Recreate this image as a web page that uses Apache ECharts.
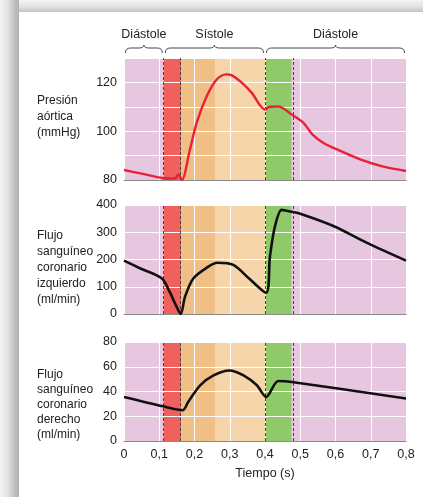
<!DOCTYPE html>
<html>
<head>
<meta charset="utf-8">
<script src="https://cdn.jsdelivr.net/npm/echarts@6/dist/echarts.min.js"></script>
<style>
  html, body { margin: 0; padding: 0; background: #fff; }
  #frame {
    position: absolute; left: 0; top: 0; width: 423px; height: 497px;
    background:
      linear-gradient(to right, #f4f4f4 0px, #e6e6e6 7px, #c8c8c8 13px, #b0b0b0 19px, rgba(0,0,0,0) 19px) left top / 19px 100% no-repeat,
      linear-gradient(to bottom, #f4f4f4 0px, #e4e4e4 6px, #c4c4c4 12px, rgba(0,0,0,0) 12px) left top / 100% 12px no-repeat;
  }
  #chart { position: absolute; left: 0; top: 0; width: 423px; height: 497px; }
</style>
</head>
<body>
<div id="frame"></div>
<div id="chart"></div>
<script>
// fases del ciclo (s)
const phaseEdges = [[0, 0.113], [0.113, 0.4], [0.4, 0.8]]
const phaseNames = ['Diástole', 'Sístole', 'Diástole']
// bandas de fondo
const bandEdges = [0, 0.113, 0.163, 0.26, 0.4, 0.476, 0.8]
const dashedLines = [0.113, 0.163, 0.4, 0.476]

// presión aórtica (mmHg)
const aortaTime = [0, 0.05, 0.11, 0.145, 0.154, 0.164, 0.187, 0.206, 0.235, 0.263, 0.29, 0.306, 0.334, 0.362, 0.4, 0.414, 0.438, 0.476, 0.509, 0.535, 0.565, 0.6, 0.67, 0.736, 0.8]
const aortaP = [84.1, 82.6, 80.8, 80.6, 82.3, 80, 92.4, 103.4, 114.4, 121.2, 123.3, 122.9, 119.9, 115.8, 108.9, 110, 110.1, 106.8, 103.4, 98.6, 95.3, 92.8, 88.5, 85.5, 83.7]

// flujo coronario izquierdo (ml/min)
const leftTime = [0, 0.045, 0.107, 0.13, 0.149, 0.161, 0.173, 0.197, 0.235, 0.265, 0.31, 0.355, 0.403, 0.414, 0.428, 0.447, 0.461, 0.476, 0.5, 0.594, 0.688, 0.8]
const leftFlow = [196, 168, 131, 80, 27, 0, 63, 131, 170, 188, 180, 130, 78, 210, 320, 382, 379, 375, 368, 323, 262, 196]

// flujo coronario derecho (ml/min)
const rightTime = [0, 0.111, 0.166, 0.182, 0.216, 0.254, 0.299, 0.339, 0.377, 0.403, 0.438, 0.476, 0.8]
const rightFlow = [35.6, 28, 24.8, 31.5, 45, 53, 57, 53, 45, 35.6, 48.5, 47.7, 34.3]

const bandColors = ['#e6c7df', '#f0605c', '#f0bf86', '#f7d5aa', '#8fc96a', '#e6c7df']
const font = "'Liberation Sans', Arial, sans-serif"
const textColor = '#222'

const zip = (xs, ys) => xs.map((x, i) => [x, ys[i]])

const chart = echarts.init(document.getElementById('chart'))

const grids = [
  { left: 124, right: 17, top: 58, height: 122 },
  { left: 124, right: 17, top: 205, height: 109 },
  { left: 124, right: 17, top: 342, height: 99 }
]
const yRanges = [
  { min: 80, max: 130, interval: 10, step: 20 },
  { min: 0, max: 400, interval: 100, step: 100 },
  { min: 0, max: 80, interval: 20, step: 20 }
]

const xAxes = grids.map((g, i) => ({
  type: 'value',
  gridIndex: i,
  min: 0,
  max: 0.8,
  interval: 0.1,
  z: 3,
  axisLine: { show: true, lineStyle: { color: '#8a8a8a', width: 1 } },
  axisTick: { show: false },
  splitLine: { show: true, lineStyle: { color: '#ffffff', width: 1 } },
  axisLabel: {
    show: i === 2,
    margin: 7,
    color: textColor,
    fontFamily: font,
    fontSize: 12.5,
    formatter: v => String(+v.toFixed(1)).replace('.', ',')
  },
  name: i === 2 ? 'Tiempo (s)' : '',
  nameLocation: 'middle',
  nameGap: 26,
  nameTextStyle: { color: textColor, fontFamily: font, fontSize: 12.5 }
}))

const yAxes = yRanges.map((r, i) => ({
  type: 'value',
  gridIndex: i,
  min: r.min,
  max: r.max,
  interval: r.interval,
  z: 3,
  axisLine: { show: false },
  axisTick: { show: false },
  splitLine: { show: true, lineStyle: { color: '#ffffff', width: 1 } },
  axisLabel: {
    margin: 7,
    color: textColor,
    fontFamily: font,
    fontSize: 12.5,
    formatter: v => (v % r.step === 0 && v !== r.max || (i > 0 && v === r.max)) ? String(v) : ''
  }
}))

const bandData = bandEdges.slice(0, -1).map((s, i) => [s, bandEdges[i + 1]])

function renderBand(params, api) {
  const s = api.coord([api.value(0), 0])
  const e = api.coord([api.value(1), 0])
  const cs = params.coordSys
  return {
    type: 'rect',
    shape: { x: s[0], y: cs.y, width: e[0] - s[0], height: cs.height },
    style: { fill: bandColors[params.dataIndex] }
  }
}

function renderBrace(params, api) {
  const a = api.coord([api.value(0), 130])
  const b = api.coord([api.value(1), 130])
  const x1 = a[0] + 1.5, x2 = b[0] - 1.5, y0 = a[1]
  const yb = y0 - 5, yt = y0 - 10, tip = y0 - 13, xm = (x1 + x2) / 2, r = 5
  const d = `M${x1},${yb} Q${x1},${yt} ${x1 + r},${yt} L${xm - r},${yt} Q${xm},${yt} ${xm},${tip} Q${xm},${yt} ${xm + r},${yt} L${x2 - r},${yt} Q${x2},${yt} ${x2},${yb}`
  return {
    type: 'group',
    children: [
      { type: 'path', shape: { pathData: d }, style: { fill: 'none', stroke: '#444', lineWidth: 1 } },
      {
        type: 'text',
        style: {
          text: phaseNames[params.dataIndex], x: xm, y: y0 - 23,
          textAlign: 'center', textVerticalAlign: 'middle',
          fill: textColor, font: `12.5px ${font}`
        }
      }
    ]
  }
}

const lineData = [zip(aortaTime, aortaP), zip(leftTime, leftFlow), zip(rightTime, rightFlow)]
const lineColors = ['#e8203a', '#111111', '#111111']

const series = []
grids.forEach((g, i) => {
  series.push({
    type: 'custom',
    xAxisIndex: i,
    yAxisIndex: i,
    z: 1,
    silent: true,
    renderItem: renderBand,
    encode: { x: [0, 1] },
    data: bandData
  })
  series.push({
    type: 'line',
    xAxisIndex: i,
    yAxisIndex: i,
    z: 5,
    data: lineData[i],
    smooth: 0.3,
    symbol: 'none',
    lineStyle: { color: lineColors[i], width: i === 0 ? 2.4 : 2.6 },
    markLine: {
      silent: true,
      symbol: 'none',
      label: { show: false },
      lineStyle: { color: '#444', type: [3, 2], width: 1 },
      data: dashedLines.map(x => ({ xAxis: x }))
    }
  })
})
series.push({
  type: 'custom',
  xAxisIndex: 0,
  yAxisIndex: 0,
  clip: false,
  silent: true,
  z: 6,
  renderItem: renderBrace,
  encode: { x: [0, 1] },
  data: phaseEdges
})

const sideText = (text, top, lh) => ({
  type: 'text', left: 37, top,
  style: { text, fill: textColor, font: `12px ${font}`, lineHeight: lh }
})

chart.setOption({
  animation: false,
  grid: grids,
  xAxis: xAxes,
  yAxis: yAxes,
  series,
  graphic: [
    sideText('Presión\naórtica\n(mmHg)', 93, 16),
    sideText('Flujo\nsanguíneo\ncoronario\nizquierdo\n(ml/min)', 228, 16),
    sideText('Flujo\nsanguíneo\ncoronario\nderecho\n(ml/min)', 367, 15)
  ]
})
</script>
</body>
</html>
